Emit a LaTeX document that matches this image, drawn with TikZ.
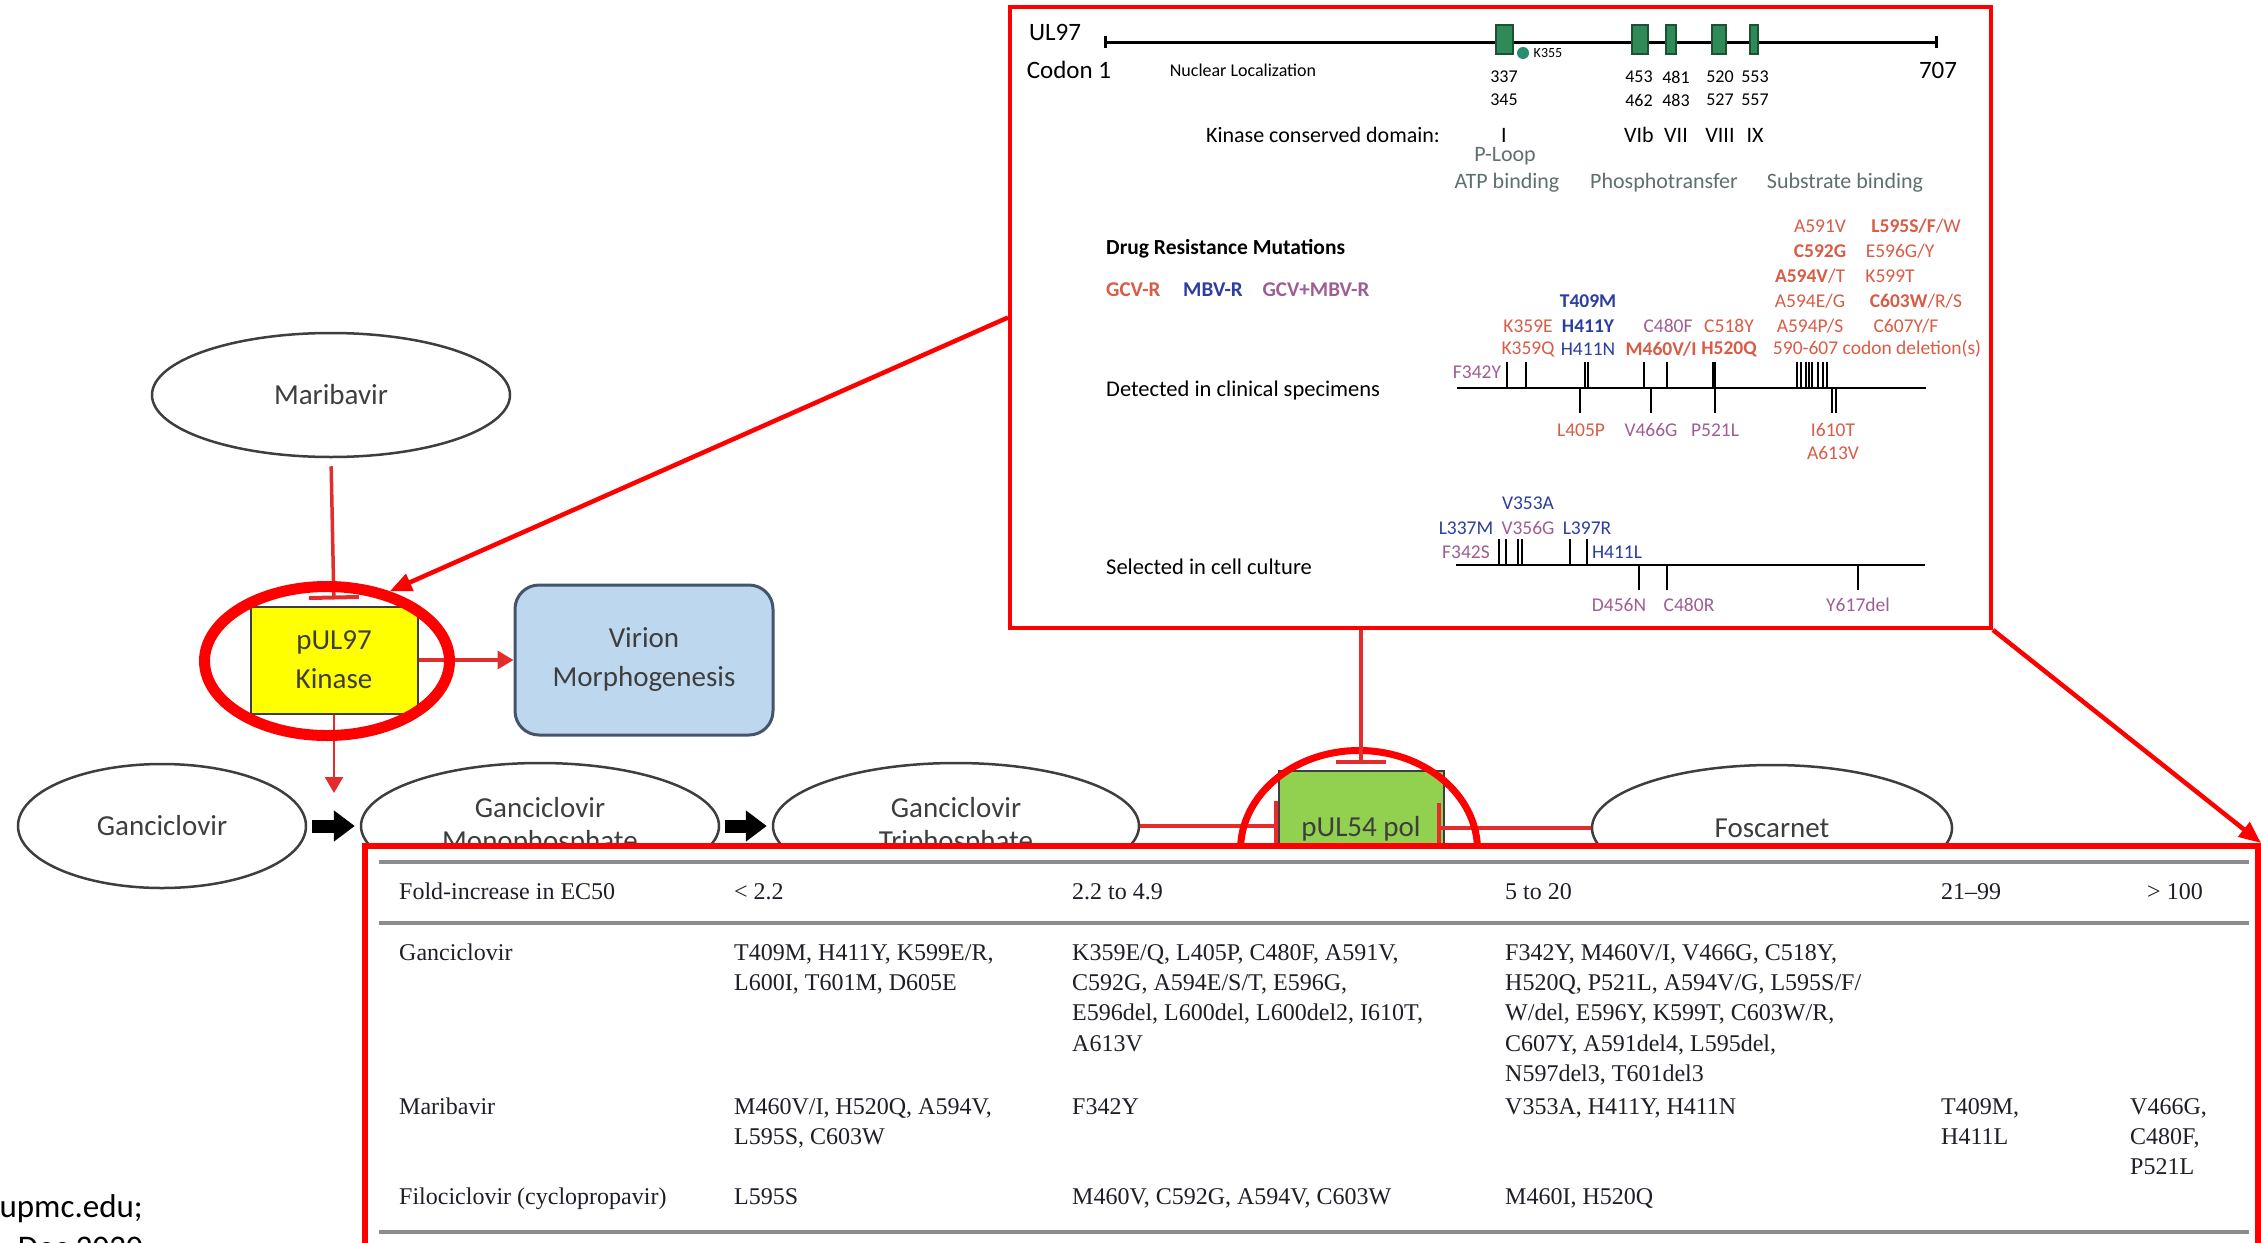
\documentclass[tikz,border=0pt]{standalone}
\usepackage{fontspec}
\setmainfont{Carlito}
\newfontfamily\tabfont{Liberation Serif}
\usetikzlibrary{arrows.meta, positioning, shapes.geometric}
\definecolor{gcvred}{RGB}{216,92,70}
\definecolor{mbvblue}{RGB}{44,62,158}
\definecolor{bothpurple}{RGB}{158,94,146}
\definecolor{domaingreen}{RGB}{46,139,87}
\definecolor{domainedge}{RGB}{30,80,50}
\definecolor{dotgreen}{RGB}{40,140,110}
\definecolor{slategray}{RGB}{95,110,110}
\definecolor{ringred}{RGB}{255,0,0}
\definecolor{flowred}{RGB}{228,44,44}
\definecolor{boxblue}{RGB}{189,215,238}
\definecolor{boxedge}{RGB}{68,84,106}
\definecolor{kinyellow}{RGB}{255,255,0}
\definecolor{polgreen}{RGB}{146,208,80}
\definecolor{inkgray}{RGB}{62,62,62}
\definecolor{rulegray}{RGB}{140,140,140}
\definecolor{tabink}{RGB}{30,30,40}
\newcommand{\ptsize}[2]{\fontsize{#1}{#2}\selectfont}

\begin{document}
\begin{tikzpicture}[x=1pt, y=-1pt,
  drug/.style={ellipse, draw=inkgray, line width=2.5pt, text=inkgray, align=center, inner sep=0pt, font=\ptsize{29}{33}},
  protein/.style={rectangle, draw=inkgray, line width=2pt, text=inkgray, align=center, inner sep=0pt, font=\ptsize{29}{39}},
  inhibit/.style={draw=flowred, line width=3.5pt, -{Bar[width=50pt, line width=4pt]}},
  activate/.style={draw=flowred, line width=3.5pt, -{Triangle[length=16pt, width=18pt]}},
  convert/.style={draw=black, line width=13pt, -{Triangle[length=21pt, width=30pt]}, shorten <=5pt, shorten >=5pt},
  ring/.style={ellipse, draw=ringred, inner sep=0pt},
  zoomarrow/.style={draw=ringred, line width=4.5pt, -{Triangle[length=22pt, width=18pt]}},
  ultext/.style={inner sep=0pt, font=\ptsize{25}{30}},
  numtext/.style={inner sep=0pt, font=\ptsize{18}{20}},
  domtext/.style={inner sep=0pt, font=\ptsize{22}{26}},
  roletext/.style={inner sep=0pt, text=slategray, font=\ptsize{22}{26}},
  rowtext/.style={inner sep=0pt, anchor=west, font=\ptsize{22.5}{26}},
  mut/.style={inner sep=0pt, font=\ptsize{19.5}{22}},
  tick/.style={line width=1.8pt},
  tabtext/.style={inner sep=0pt, anchor=north west, align=left, text=tabink, font=\tabfont\ptsize{24}{30.3}},
  tabrule/.style={draw=rulegray, line width=4pt}]
  \useasboundingbox (0,0) rectangle (2261,1242);

  % pathway
  \node[drug, minimum width=358pt, minimum height=124pt] (mbv) at (331,395) {Maribavir};
  \node[protein, fill=kinyellow, minimum width=167pt, minimum height=107pt] (k97) at (334,660) {pUL97\\Kinase};
  \node[protein, fill=boxblue, draw=boxedge, rounded corners=24pt, line width=3pt, minimum width=258pt, minimum height=150pt] (virion) at (644,660) {Virion\\Morphogenesis};
  \node[drug, minimum width=288pt, minimum height=124pt] (gcv) at (162,826) {Ganciclovir};
  \node[drug, minimum width=358pt, minimum height=126pt] (mono) at (540,826) {Ganciclovir\\Monophosphate};
  \node[drug, minimum width=366pt, minimum height=126pt] (tri) at (956,826) {Ganciclovir\\Triphosphate};
  \node[protein, fill=polgreen, minimum width=165pt, minimum height=116pt] (pol54) at (1361,829) {pUL54 pol};
  \node[drug, minimum width=360pt, minimum height=126pt] (fos) at (1772,828) {Foscarnet};

  \coordinate (gcvmeet) at (334,793);
  \draw[inhibit, shorten <=8pt, shorten >=6pt] (mbv.south) -- (k97.north);
  \draw[activate] (k97.east) -- (virion.west);
  \draw[activate, line width=2.5pt] (k97.south) -- (gcvmeet);
  \draw[convert] (gcv.east) -- (mono.west);
  \draw[convert] (mono.east) -- (tri.west);
  \draw[inhibit] (tri.east) -- (tri.east -| pol54.west);
  \draw[inhibit, shorten >=-8pt] (fos.west) -- (fos.west -| pol54.east);

  \node[ring, line width=11pt, minimum width=245pt, minimum height=149pt] (ring97) at (327,661) {};
  \node[ring, line width=7pt, minimum width=237pt, minimum height=199pt] (ring54) at (1359,850) {};

  % resistance table
  \node[draw=ringred, fill=white, line width=6pt, minimum width=1893pt, minimum height=454pt, inner sep=0pt] (tablebox) at (1311.5,1073) {};
  \draw[tabrule] (379,862) -- (2249,862);
  \draw[tabrule] (379,923) -- (2249,923);
  \draw[tabrule] (379,1232) -- (2249,1232);
  \node[tabtext] (hdr0) at (399,883) {Fold-increase in EC50};
  \node[tabtext] (hdr1) at (734,883) {< 2.2};
  \node[tabtext] (hdr2) at (1072,883) {2.2 to 4.9};
  \node[tabtext] (hdr3) at (1505,883) {5 to 20};
  \node[tabtext] (hdr4) at (1941,883) {21–99};
  \node[tabtext] (hdr5) at (2147,883) {> 100};

  \node[tabtext] (gcv0) at (399,944) {Ganciclovir};
  \node[tabtext] (gcv1) at (734,944) {T409M, H411Y, K599E/R,\\L600I, T601M, D605E};
  \node[tabtext] (gcv2) at (1072,944) {K359E/Q, L405P, C480F, A591V,\\C592G, A594E/S/T, E596G,\\E596del, L600del, L600del2, I610T,\\A613V};
  \node[tabtext] (gcv3) at (1505,944) {F342Y, M460V/I, V466G, C518Y,\\H520Q, P521L, A594V/G, L595S/F/\\W/del, E596Y, K599T, C603W/R,\\C607Y, A591del4, L595del,\\N597del3, T601del3};

  \node[tabtext] (mbv0) at (399,1098) {Maribavir};
  \node[tabtext] (mbv1) at (734,1098) {M460V/I, H520Q, A594V,\\L595S, C603W};
  \node[tabtext] (mbv2) at (1072,1098) {F342Y};
  \node[tabtext] (mbv3) at (1505,1098) {V353A, H411Y, H411N};
  \node[tabtext] (mbv4) at (1941,1098) {T409M,\\H411L};
  \node[tabtext] (mbv5) at (2130,1098) {V466G,\\C480F,\\P521L};

  \node[tabtext] (flc0) at (399,1188) {Filociclovir (cyclopropavir)};
  \node[tabtext] (flc1) at (734,1188) {L595S};
  \node[tabtext] (flc2) at (1072,1188) {M460V, C592G, A594V, C603W};
  \node[tabtext] (flc3) at (1505,1188) {M460I, H520Q};

  % UL97 map
  \node[draw=ringred, fill=white, line width=4pt, minimum width=981pt, minimum height=621pt, inner sep=0pt] (ulbox) at (1500.5,317.5) {};
  \draw[line width=3pt, {Bar[width=12pt]}-{Bar[width=12pt]}] (1104,42) -- (1938,42);
  \foreach \xa/\xb in {1496/1513, 1632/1648, 1666/1676, 1712/1726, 1750/1758}
    \draw[draw=domainedge, fill=domaingreen, line width=1.5pt] (\xa,25) rectangle (\xb,54);
  \fill[dotgreen] (1523,53) circle[radius=6pt];
  \node[inner sep=0pt, font=\ptsize{14}{16}] (k355) at (1548,53) {K355};
  \node[ultext] (ultitle) at (1055,32) {UL97};
  \node[ultext] (codon1) at (1069,70) {Codon 1};
  \node[ultext] (codon707) at (1938,70) {707};
  \node[inner sep=0pt, font=\ptsize{18}{20}] (nucloc) at (1243,70) {Nuclear Localization};
  \foreach \x/\a/\b/\r [count=\i] in {1504/337/345/I, 1639/453/462/VIb, 1676/481/483/VII, 1720/520/527/VIII, 1755/553/557/IX} {
    \node[numtext] (start\i) at (\x,77) {\a};
    \node[numtext] (end\i) at (\x,100) {\b};
    \node[domtext] (dom\i) at (\x,135) {\r};
  }
  \node[domtext] (kinlabel) at (1323,135) {Kinase conserved domain:};
  \node[roletext] (ploop) at (1505,156) {P-Loop};
  \node[roletext] (atp) at (1507,183) {ATP binding};
  \node[roletext] (phospho) at (1664,183) {Phosphotransfer};
  \node[roletext] (substrate) at (1845,183) {Substrate binding};

  \node[rowtext, font=\bfseries\ptsize{21.5}{26}] (drmtitle) at (1106,249) {Drug Resistance Mutations};
  \node[rowtext, text=gcvred, font=\bfseries\ptsize{21}{26}] (keygcv) at (1106,290) {GCV-R};
  \node[inner sep=0pt, text=mbvblue, font=\bfseries\ptsize{21}{26}] (keymbv) at (1213,290) {MBV-R};
  \node[inner sep=0pt, text=bothpurple, font=\bfseries\ptsize{21}{26}] (keyboth) at (1316,290) {GCV+MBV-R};

  % clinical specimens
  \node[rowtext] (clinical) at (1106,390) {Detected in clinical specimens};
  \draw[line width=2.5pt] (1457,388) -- (1926,388);
  \foreach \x in {1507,1526,1585,1588,1644,1667,1713,1715}
    \draw[tick] (\x,362) -- (\x,388);
  \foreach \x in {1797,1801,1806,1809,1812,1818,1823,1827}
    \draw[line width=1.2pt] (\x,362) -- (\x,388);
  \foreach \x in {1580,1651,1715,1832,1836}
    \draw[tick] (\x,388) -- (\x,413);
  \node[mut, text=gcvred] (m591) at (1820,226) {A591V};
  \node[mut, text=gcvred] (m595) at (1916,226) {\textbf{L595S/F}/W};
  \node[mut, text=gcvred, font=\bfseries\ptsize{19.5}{22}] (m592) at (1820,251) {C592G};
  \node[mut, text=gcvred] (m596) at (1900,251) {E596G/Y};
  \node[mut, text=gcvred] (m594vt) at (1810,276) {\textbf{A594V}/T};
  \node[mut, text=gcvred] (m599) at (1890,276) {K599T};
  \node[mut, text=mbvblue, font=\bfseries\ptsize{19.5}{22}] (m409) at (1588,301) {T409M};
  \node[mut, text=gcvred] (m594eg) at (1810,301) {A594E/G};
  \node[mut, text=gcvred] (m603) at (1916,301) {\textbf{C603W}/R/S};
  \node[mut, text=gcvred] (m359e) at (1528,326) {K359E};
  \node[mut, text=mbvblue, font=\bfseries\ptsize{19.5}{22}] (m411y) at (1588,326) {H411Y};
  \node[mut, text=bothpurple] (m480f) at (1668,326) {C480F};
  \node[mut, text=gcvred] (m518) at (1729,326) {C518Y};
  \node[mut, text=gcvred] (m594ps) at (1810,326) {A594P/S};
  \node[mut, text=gcvred] (m607) at (1906,326) {C607Y/F};
  \node[mut, text=gcvred] (m359q) at (1528,349) {K359Q};
  \node[mut, text=mbvblue] (m411n) at (1588,349) {H411N};
  \node[mut, text=gcvred, font=\bfseries\ptsize{19.5}{22}] (m460) at (1661,349) {M460V/I};
  \node[mut, text=gcvred, font=\bfseries\ptsize{19.5}{22}] (m520) at (1729,349) {H520Q};
  \node[mut, text=gcvred] (mdel) at (1877,349) {590-607 codon deletion(s)};
  \node[mut, text=bothpurple] (m342y) at (1477,372) {F342Y};
  \node[mut, text=gcvred] (m405) at (1581,430) {L405P};
  \node[mut, text=bothpurple] (m466) at (1651,430) {V466G};
  \node[mut, text=bothpurple] (m521) at (1715,430) {P521L};
  \node[mut, text=gcvred] (m610) at (1833,430) {I610T};
  \node[mut, text=gcvred] (m613) at (1833,453) {A613V};

  % cell culture
  \node[rowtext] (culture) at (1106,567) {Selected in cell culture};
  \draw[line width=2.5pt] (1456,565) -- (1925,565);
  \foreach \x in {1499,1506,1518,1522,1570,1587}
    \draw[tick] (\x,539) -- (\x,565);
  \foreach \x in {1639,1667,1858}
    \draw[tick] (\x,565) -- (\x,590);
  \node[mut, text=mbvblue] (c353) at (1528,503) {V353A};
  \node[mut, text=mbvblue] (c337) at (1466,528) {L337M};
  \node[mut, text=bothpurple] (c356) at (1528,528) {V356G};
  \node[mut, text=mbvblue] (c397) at (1587,528) {L397R};
  \node[mut, text=bothpurple] (c342) at (1466,552) {F342S};
  \node[mut, text=mbvblue] (c411) at (1617,552) {H411L};
  \node[mut, text=bothpurple] (c456) at (1619,605) {D456N};
  \node[mut, text=bothpurple] (c480) at (1689,605) {C480R};
  \node[mut, text=bothpurple] (c617) at (1858,605) {Y617del};

  % zoom callouts
  \draw[inhibit, shorten >=6pt] (ulbox.south -| pol54.north) -- (pol54.north);
  \draw[zoomarrow] (ulbox.west) -- (ring97.48);
  \draw[zoomarrow] (ulbox.south east) -- (tablebox.north east);

  \node[anchor=north east, align=right, inner sep=0pt, font=\ptsize{33}{41}] (source) at (143,1194) {upmc.edu;\\Dec 2020};
\end{tikzpicture}
\end{document}
